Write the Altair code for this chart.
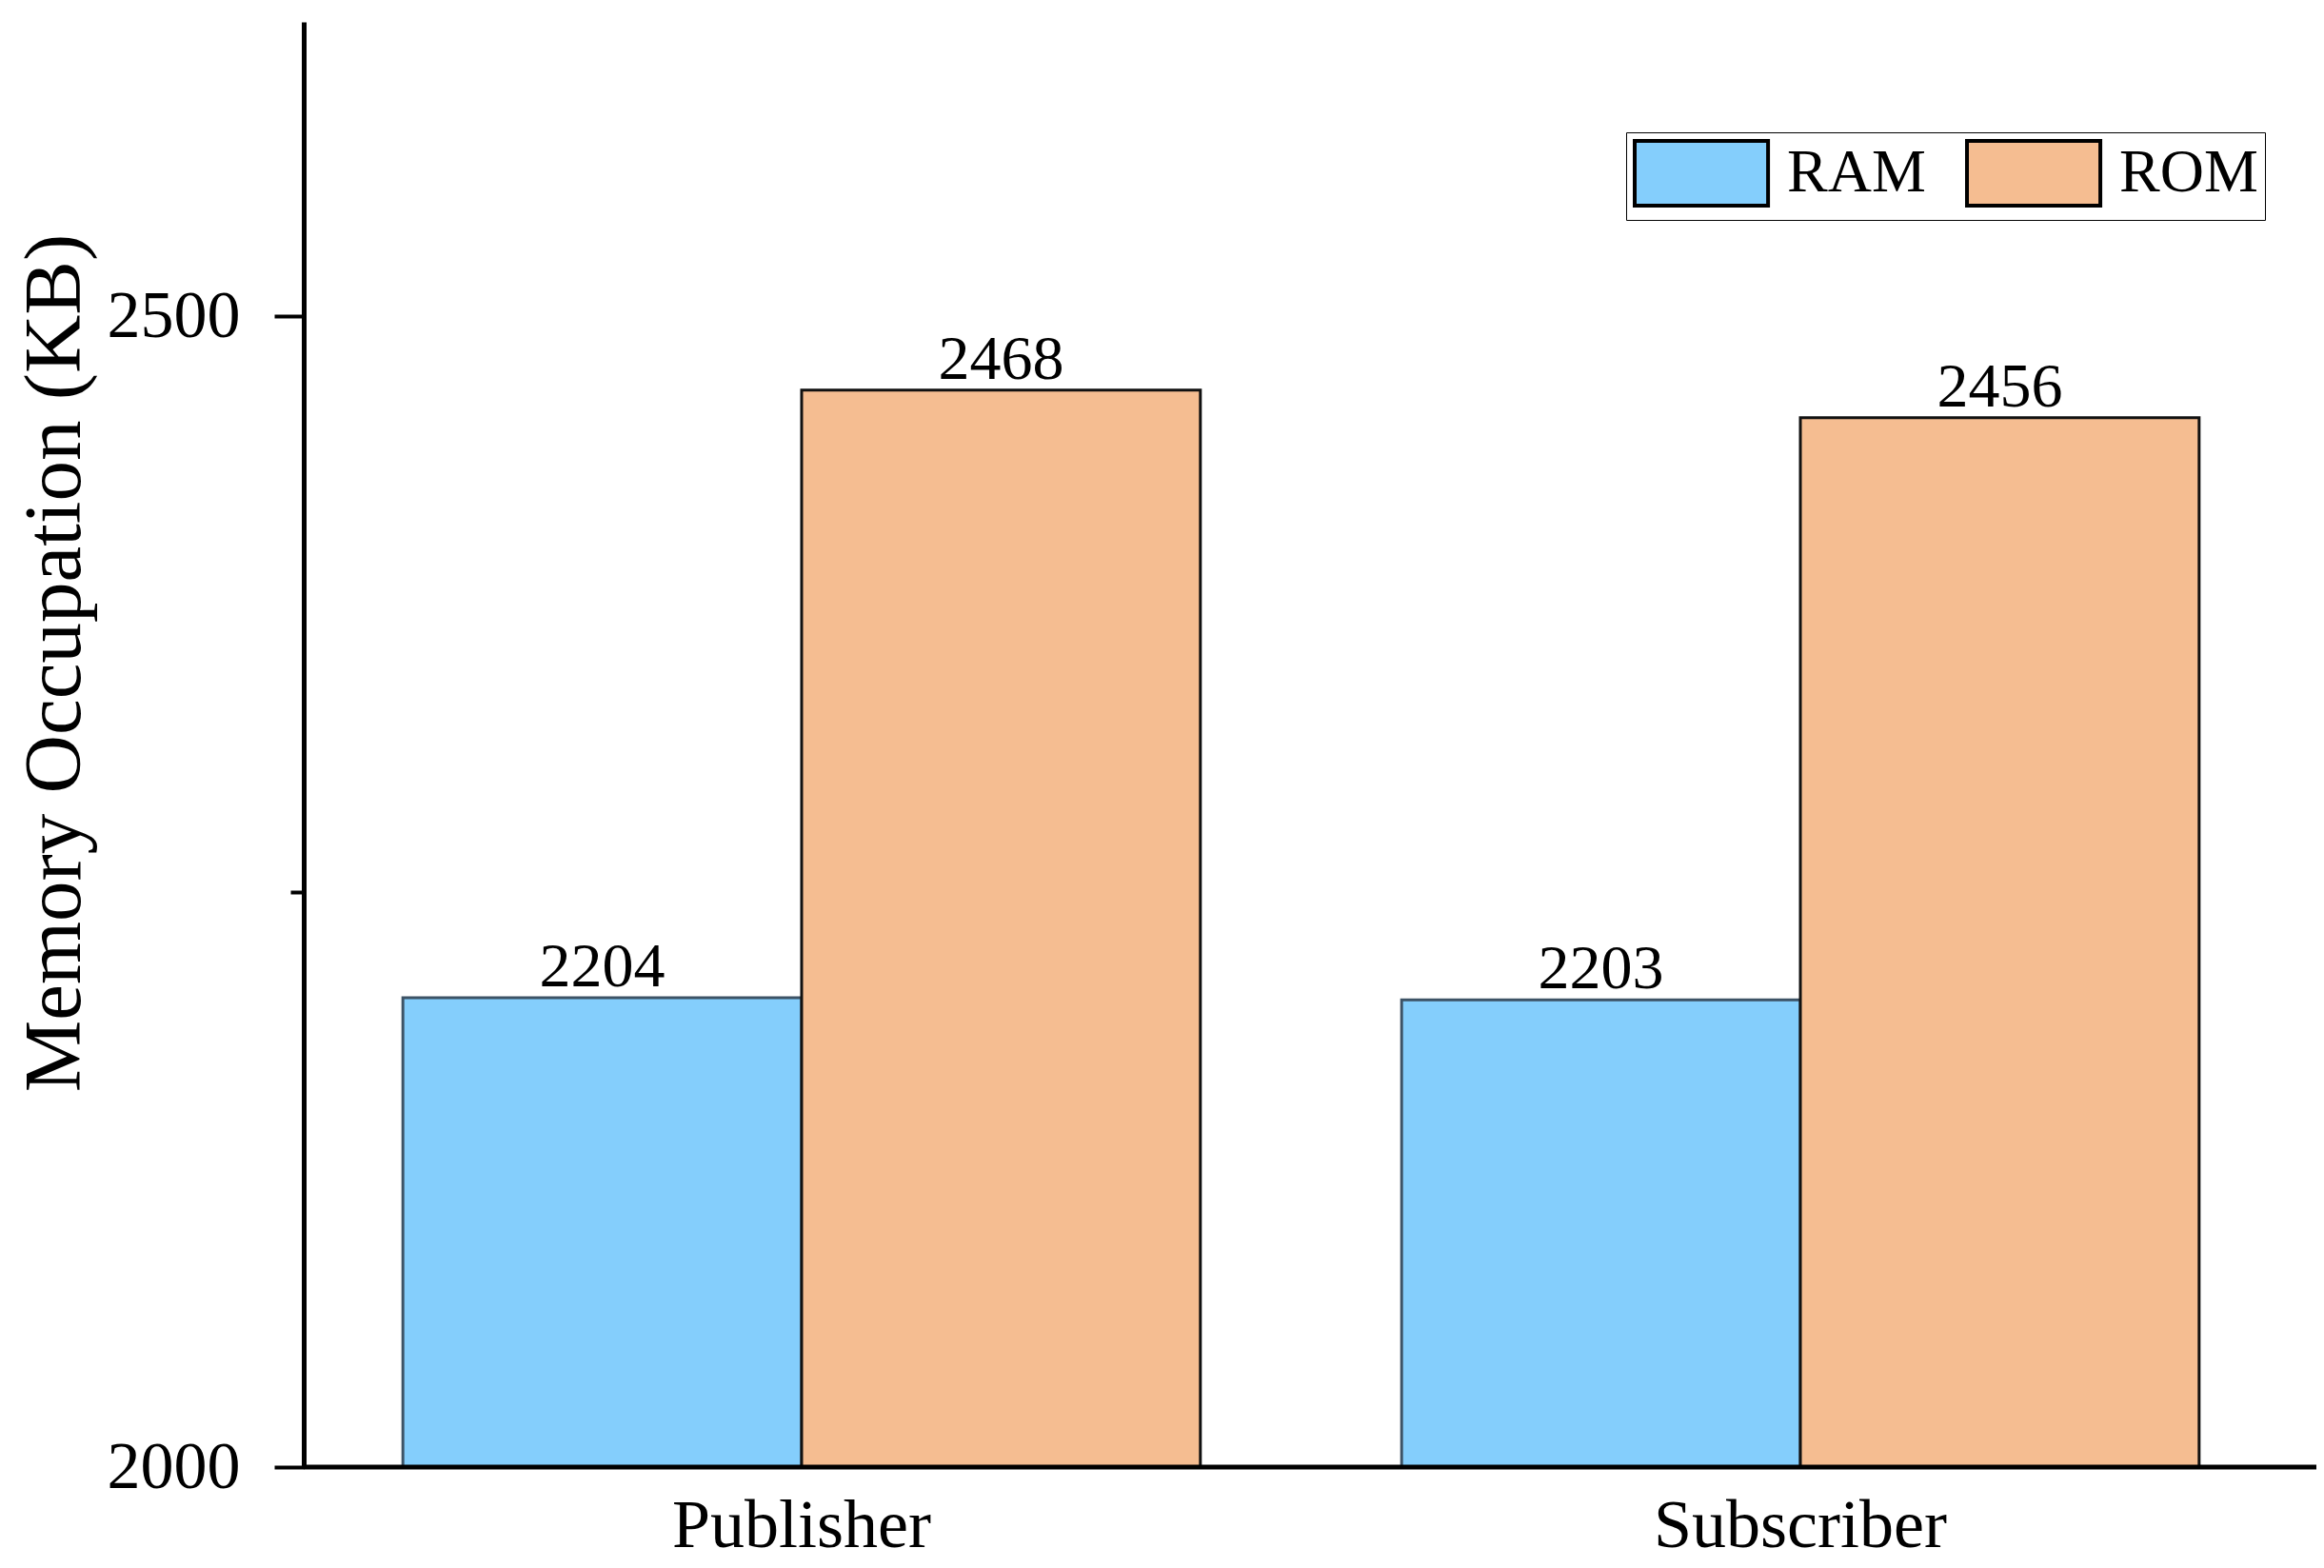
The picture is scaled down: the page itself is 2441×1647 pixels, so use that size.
import altair as alt
import pandas as pd

categories = ["Publisher", "Publisher", "Subscriber", "Subscriber"]
series = ["RAM", "ROM", "RAM", "ROM"]
values = [2204, 2468, 2203, 2456]
baseline_value = [2000]

df = pd.DataFrame({"Category": categories, "Series": series, "Value": values})
base_df = pd.DataFrame({"Value": baseline_value})

FONT = "Liberation Serif"
colors = ["#84CEFC", "#F5BD91"]

x = alt.X("Category:N", title=None,
          scale=alt.Scale(paddingInner=0.2015, paddingOuter=0.0993, range=[0, 2095]),
          axis=alt.Axis(labelAngle=0, ticks=False, labelFontSize=72, labelFont=FONT,
                        labelColor="black", labelPadding=26, labelLimit=0,
                        domain=False))
xo = alt.XOffset("Series:N", sort=["RAM", "ROM"])
y = alt.Y("Value:Q", title="Memory Occupation (KB)",
          scale=alt.Scale(domain=[2000, 2628], nice=False, zero=False),
          axis=alt.Axis(values=[2000, 2250, 2500],
                        labelExpr="datum.value == 2250 ? '' : datum.label",
                        format="d", grid=False,
                        tickSize={"condition": {"test": "datum.value == 2250", "value": 14}, "value": 31},
                        tickWidth=4, tickColor="black",
                        domainColor="black", domainWidth=5,
                        labelFont=FONT, labelFontSize=70, labelColor="black",
                        labelPadding=36,
                        titleFont=FONT, titleFontSize=85, titleFontWeight="normal",
                        titleColor="black", titleAngle=-90, titleX=-262, titleY=673,
                        titleAlign="center", titleBaseline="middle"))

bars = alt.Chart(df).mark_bar(strokeWidth=3, clip=True).encode(
    x=x, xOffset=xo, y=y,
    color=alt.Color("Series:N", sort=["RAM", "ROM"],
                    scale=alt.Scale(domain=["RAM", "ROM"], range=colors),
                    legend=alt.Legend(title=None, orient="none", legendX=1389, legendY=116,
                                      direction="horizontal",
                                      symbolType="M-1,-1L3.12,-1L3.12,1L-1,1Z",
                                      symbolSize=4624, symbolStrokeColor="black",
                                      symbolStrokeWidth=4, symbolOpacity=1,
                                      labelFont=FONT, labelFontSize=64, labelColor="black",
                                      labelOffset=90, columnPadding=35,
                                      strokeColor="black", fillColor="white", padding=7)),
    stroke=alt.condition(alt.datum.Series == "RAM", alt.value("#3d5366"), alt.value("#111111")),
)

labels = alt.Chart(df).mark_text(font=FONT, fontSize=66, color="black", baseline="alphabetic",
                                 dy=-12).encode(
    x=alt.X("Category:N"), xOffset=xo, y=alt.Y("Value:Q"), text=alt.Text("Value:Q", format="d")
)

baseline = alt.Chart(base_df).mark_rule(color="black", strokeWidth=5).encode(
    y=alt.Y("Value:Q")
)

chart = alt.layer(bars, labels, baseline).properties(
    width=2114, height=1518,
    autosize=alt.AutoSizeParams(type="none"),
    padding={"left": 311, "top": 15, "right": 0, "bottom": 100},
).configure(background="white").configure_view(stroke=None)

chart.save("out.html", embed_options={"renderer": "svg", "actions": False})
